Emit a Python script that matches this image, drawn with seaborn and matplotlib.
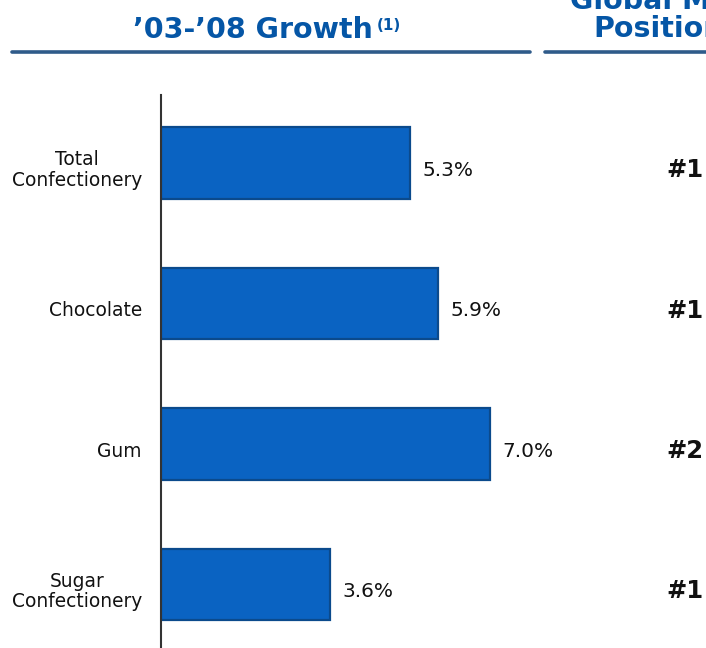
import matplotlib
matplotlib.use("Agg")
import matplotlib.pyplot as plt
from matplotlib.lines import Line2D
import seaborn as sns
import pandas as pd

categories = ["Total\nConfectionery", "Chocolate", "Gum", "Sugar\nConfectionery"]
growth = [5.3, 5.9, 7.0, 3.6]
value_labels = ["5.3%", "5.9%", "7.0%", "3.6%"]
ranks = ["#1", "#1", "#2", "#1"]

sns.set_theme(style="white")
plt.rcParams['font.family'] = ['DejaVu Sans']

W, H = 706, 648
fig = plt.figure(figsize=(W / 100, H / 100), dpi=100)
fig.patch.set_facecolor("white")

# axes: zero line at x=161px, top at y=95px, bottom at figure bottom
ax = fig.add_axes([161 / W, 0, (701 - 161) / W, (H - 95) / H])
df = pd.DataFrame({"cat": categories, "val": growth})
sns.barplot(data=df, y="cat", x="val", orient="h", width=0.51,
            color="#0A63C2", edgecolor="#0B4A8C", linewidth=1.6,
            saturation=1, ax=ax)

ppx = 47.0      # px per percent
ppy = 140.5     # px per category
ax.set_xlim(0, (701 - 161) / ppx)
ax.set_ylim(3 + (648 - 584.5) / ppy, -(163 - 95) / ppy)

for s in ["top", "right", "bottom"]:
    ax.spines[s].set_visible(False)
ax.spines["left"].set_color("#333333")
ax.spines["left"].set_linewidth(1.5)
ax.set_xticks([])
ax.set_yticks([])
ax.set_xlabel("")
ax.set_ylabel("")
ax.set_facecolor("white")

dy = 7 / ppy
for i, (cat, v, lab, r) in enumerate(zip(categories, growth, value_labels, ranks)):
    ax.text(-19 / ppx, i + dy, cat, ha="right", va="center", multialignment="center",
            fontsize=13.4, color="#111111", clip_on=False, linespacing=1.1)
    ax.text(v + 12 / ppx, i + dy, lab, ha="left", va="center", fontsize=14.5,
            color="#111111")
    ax.text((684.5 - 161) / ppx, i + dy, r, ha="center", va="center", fontsize=17.5,
            fontweight="bold", color="#111111", clip_on=False)

title_color = "#0556A6"
fig.text(133 / W, 1 - 30 / H, "\u201903-\u201908 Growth", ha="left", va="center",
         fontsize=20.5, fontweight="bold", color=title_color)
fig.text(377 / W, 1 - 25 / H, "(1)", ha="left", va="center",
         fontsize=11, fontweight="bold", color=title_color)
fig.text(570 / W, 1 - 9 / H, "Global Market", ha="left", va="baseline",
         fontsize=20.5, fontweight="bold", color=title_color)
fig.text(593 / W, 1 - 29 / H, "Position", ha="left", va="center",
         fontsize=20.5, fontweight="bold", color=title_color)

line_color = "#2F5B8A"
fig.add_artist(Line2D([12 / W, 530 / W], [1 - 52 / H] * 2, color=line_color, lw=2.6))
fig.add_artist(Line2D([545 / W, 1.0], [1 - 52 / H] * 2, color=line_color, lw=2.6))

fig.savefig("out.png", dpi=100, facecolor="white")
